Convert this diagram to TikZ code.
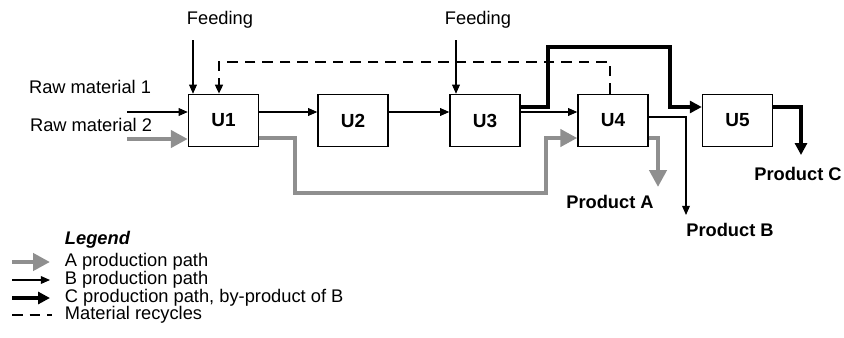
\documentclass[tikz,border=0pt]{standalone}
\usepackage{fontspec}
\setmainfont{Liberation Sans}
\usetikzlibrary{arrows.meta}

\begin{document}
\begin{tikzpicture}[x=0.025cm, y=-0.025cm,
  font=\fontsize{13}{15}\selectfont,
  unit/.style={draw, line width=1pt, minimum width=1.75cm, minimum height=1.3cm, inner sep=0pt, font=\fontsize{13.5}{15}\selectfont\bfseries},
  prod/.style={font=\fontsize{13}{15}\selectfont\bfseries},
  apath/.style={draw=colA, line width=3.5pt, -{Triangle[length=12pt, width=12pt]}},
  bpath/.style={line width=0.8pt, -{Triangle[length=6.5pt, width=5.5pt]}},
  cpath/.style={line width=2.6pt, -{Triangle[length=8.5pt, width=8.5pt]}},
  recycle/.style={line width=1.8pt, dash pattern=on 7.5pt off 5pt}]

% Colori
\definecolor{colA}{HTML}{8F8F8F}

% Riquadro
\useasboundingbox (0,0) rectangle (844,337);

% Unita
\node[unit] (u1) at (223.5,120.5) {U1};
\node[unit] (u2) at (353,120.5) {U2};
\node[unit] (u3) at (485,120.5) {U3};
\node[unit] (u4) at (613,120.5) {U4};
\node[unit] (u5) at (737.5,120.5) {U5};

% Ingressi
\node (feed1) at (220,20) {Feeding};
\node (feed3) at (478,20) {Feeding};
\node[anchor=east] (raw1) at (156,87) {Raw material 1};
\node[anchor=east] (raw2) at (157,125) {Raw material 2};

\coordinate (f1) at (193,40);
\coordinate (f3) at (456,40);
\draw[bpath] (f1) -- (f1 |- u1.north);
\draw[bpath] (f3) -- (f3 |- u3.north);

\coordinate (r1) at (127,112);
\coordinate (r2) at (127,139);
\draw[bpath] (r1) -- (r1 -| u1.west);
\draw[apath] (r2) -- (r2 -| u1.west);

% Ricircolo
\coordinate (rc) at (219,62);
\draw[recycle, -{Triangle[length=6.5pt, width=5.5pt]}] ([xshift=-2pt]u4.north) |- (rc) -- (rc |- u1.north);

% Percorso B
\draw[bpath] (u1.east |- r1) -- (u2.west |- r1);
\draw[bpath] (u2.east |- r1) -- (u3.west |- r1);
\draw[bpath] (u3.east |- r1) -- (u4.west |- r1);

% Percorso A
\coordinate (a1) at (295,193);
\coordinate (a2) at (546,138);
\draw[apath] (u1.east |- a2) -| (a1) -| (a2) -- (a2 -| u4.west);

% Percorso C
\coordinate (c1) at (548,47);
\coordinate (c3) at (670,107);
\draw[cpath] (u3.east |- c3) -| (c1) -| (c3) -- (c3 -| u5.west);

% Prodotti
\node[prod] (proda) at (610,202) {Product A};
\node[prod] (prodb) at (730,230) {Product B};
\node[prod] (prodc) at (798,174) {Product C};

\coordinate (pa) at (658,187);
\coordinate (pb) at (686,215);
\coordinate (pc) at (801,155);
\draw[apath] (u4.east |- a2) -| (pa);
\draw[bpath] (u4.east |- 0,117) -| (pb);
\draw[cpath] (u5.east |- c3) -| (pc);

% Legenda
\node[anchor=west, font=\fontsize{13}{15}\selectfont\bfseries\itshape] (leg) at (60,240) {Legend};
\node[anchor=west] (lega) at (60,262) {A production path};
\node[anchor=west] (legb) at (60,280) {B production path};
\node[anchor=west] (legc) at (60,298) {C production path, by-product of B};
\node[anchor=west] (legr) at (60,315) {Material recycles};

\draw[apath] (12,262) -- (50,262);
\draw[bpath] (12,280) -- (50,280);
\draw[cpath] (12,298) -- (50,298);
\draw[recycle] (12,315) -- (52,315);

\end{tikzpicture}
\end{document}
